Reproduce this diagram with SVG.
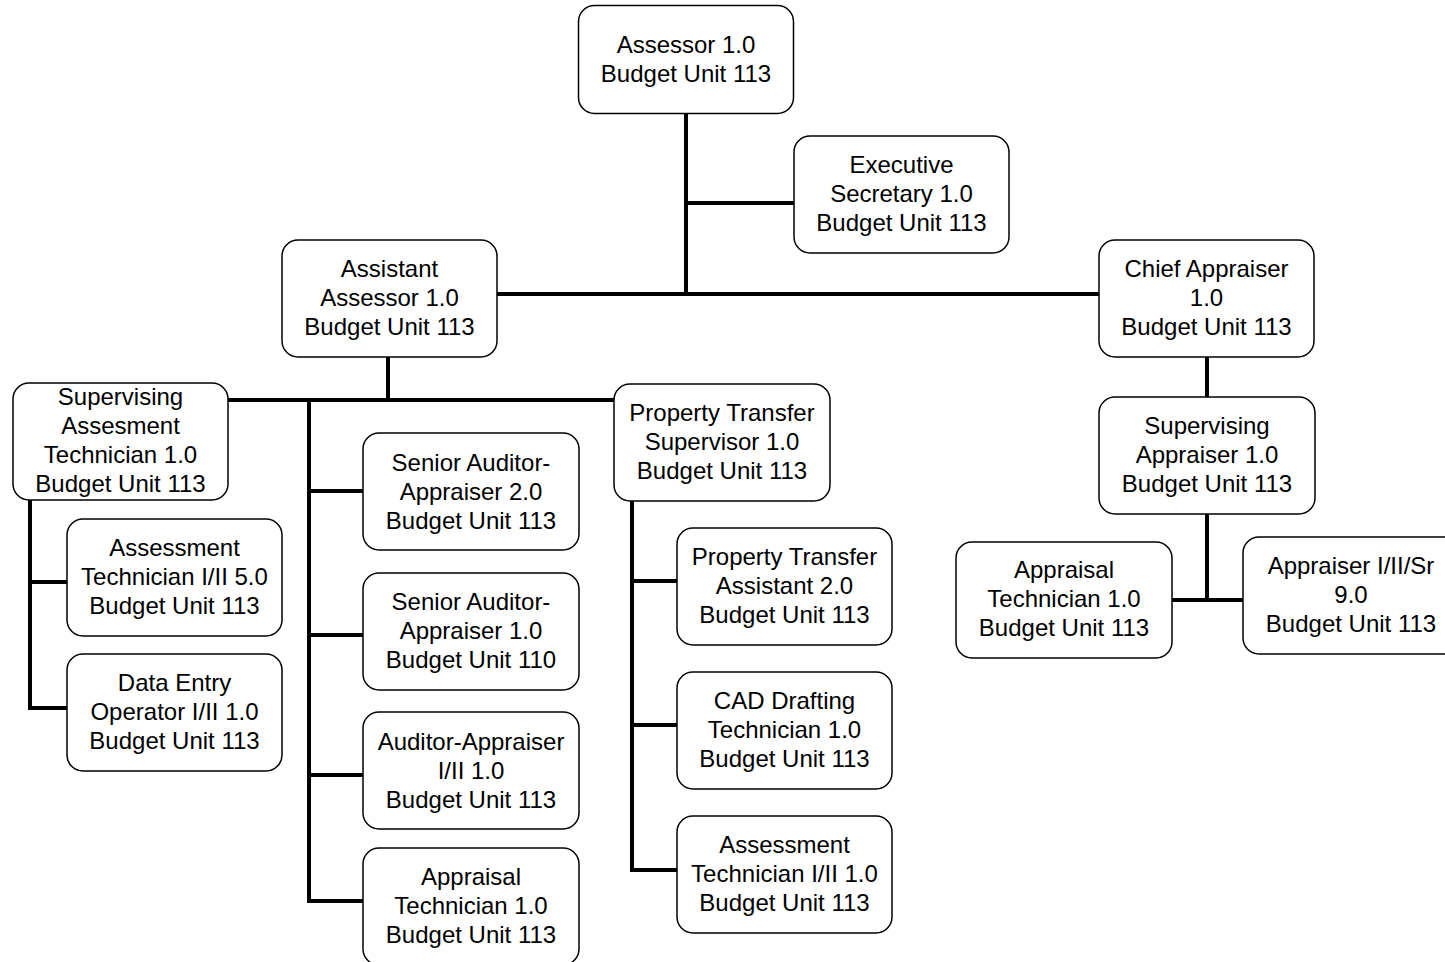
<svg xmlns="http://www.w3.org/2000/svg" width="1445" height="962" viewBox="0 0 1445 962">
<style>
.box{fill:#fff;stroke:#000;stroke-width:1.5}
.t{font-family:"Liberation Sans",Arial,sans-serif;font-size:24px;fill:#000;text-anchor:middle}
.c{fill:none;stroke:#000;stroke-width:4;stroke-linejoin:miter;stroke-linecap:butt}
</style>
<rect width="1445" height="962" fill="#fff"/>
<g id="connectors">
<path class="c" d="M686,113V294M686,203H794M497,294H1100"/>
<path class="c" d="M388,357V400M228,400H615"/>
<path class="c" d="M309,400V901H363M309,491H363M309,635H363M309,775H363"/>
<path class="c" d="M30,500V708H67M30,582H67"/>
<path class="c" d="M632,501V870H677M632,581H677M632,725H677"/>
<path class="c" d="M1207,357V397M1207,514V600M1172,600H1243"/>
</g>
<g id="n-assessor"><rect class="box" x="578.5" y="5.5" width="215" height="108" rx="16"/>
<text class="t" x="686" y="53">Assessor 1.0</text><text class="t" x="686" y="82">Budget Unit 113</text></g>
<g id="n-exec"><rect class="box" x="794" y="136" width="215" height="117" rx="16"/>
<text class="t" x="901.5" y="173">Executive</text><text class="t" x="901.5" y="202">Secretary 1.0</text><text class="t" x="901.5" y="231">Budget Unit 113</text></g>
<g id="n-asst"><rect class="box" x="282" y="240" width="215" height="117" rx="16"/>
<text class="t" x="389.5" y="277">Assistant</text><text class="t" x="389.5" y="306">Assessor 1.0</text><text class="t" x="389.5" y="335">Budget Unit 113</text></g>
<g id="n-chief"><rect class="box" x="1099" y="240" width="215" height="117" rx="16"/>
<text class="t" x="1206.5" y="277">Chief Appraiser</text><text class="t" x="1206.5" y="306">1.0</text><text class="t" x="1206.5" y="335">Budget Unit 113</text></g>
<g id="n-supassess"><rect class="box" x="13" y="383" width="215" height="117" rx="16"/>
<text class="t" x="120.5" y="405">Supervising</text><text class="t" x="120.5" y="434">Assesment</text><text class="t" x="120.5" y="463">Technician 1.0</text><text class="t" x="120.5" y="492">Budget Unit 113</text></g>
<g id="n-assesstech5"><rect class="box" x="67" y="519" width="215" height="117" rx="16"/>
<text class="t" x="174.5" y="556">Assessment</text><text class="t" x="174.5" y="585">Technician I/II 5.0</text><text class="t" x="174.5" y="614">Budget Unit 113</text></g>
<g id="n-dataentry"><rect class="box" x="67" y="654" width="215" height="117" rx="16"/>
<text class="t" x="174.5" y="691">Data Entry</text><text class="t" x="174.5" y="720">Operator I/II 1.0</text><text class="t" x="174.5" y="749">Budget Unit 113</text></g>
<g id="n-senaud2"><rect class="box" x="363" y="433" width="216" height="117" rx="16"/>
<text class="t" x="471" y="471">Senior Auditor-</text><text class="t" x="471" y="500">Appraiser 2.0</text><text class="t" x="471" y="529">Budget Unit 113</text></g>
<g id="n-senaud1"><rect class="box" x="363" y="573" width="216" height="117" rx="16"/>
<text class="t" x="471" y="610">Senior Auditor-</text><text class="t" x="471" y="639">Appraiser 1.0</text><text class="t" x="471" y="668">Budget Unit 110</text></g>
<g id="n-audapp"><rect class="box" x="363" y="712" width="216" height="117" rx="16"/>
<text class="t" x="471" y="750">Auditor-Appraiser</text><text class="t" x="471" y="779">I/II 1.0</text><text class="t" x="471" y="808">Budget Unit 113</text></g>
<g id="n-apptech-left"><rect class="box" x="363" y="848" width="216" height="117" rx="16"/>
<text class="t" x="471" y="885">Appraisal</text><text class="t" x="471" y="914">Technician 1.0</text><text class="t" x="471" y="943">Budget Unit 113</text></g>
<g id="n-pts"><rect class="box" x="614" y="384" width="216" height="117" rx="16"/>
<text class="t" x="722" y="421">Property Transfer</text><text class="t" x="722" y="450">Supervisor 1.0</text><text class="t" x="722" y="479">Budget Unit 113</text></g>
<g id="n-pta"><rect class="box" x="677" y="528" width="215" height="117" rx="16"/>
<text class="t" x="784.5" y="565">Property Transfer</text><text class="t" x="784.5" y="594">Assistant 2.0</text><text class="t" x="784.5" y="623">Budget Unit 113</text></g>
<g id="n-cad"><rect class="box" x="677" y="672" width="215" height="117" rx="16"/>
<text class="t" x="784.5" y="709">CAD Drafting</text><text class="t" x="784.5" y="738">Technician 1.0</text><text class="t" x="784.5" y="767">Budget Unit 113</text></g>
<g id="n-assesstech1"><rect class="box" x="677" y="816" width="215" height="117" rx="16"/>
<text class="t" x="784.5" y="853">Assessment</text><text class="t" x="784.5" y="882">Technician I/II 1.0</text><text class="t" x="784.5" y="911">Budget Unit 113</text></g>
<g id="n-supapp"><rect class="box" x="1099" y="397" width="216" height="117" rx="16"/>
<text class="t" x="1207" y="434">Supervising</text><text class="t" x="1207" y="463">Appraiser 1.0</text><text class="t" x="1207" y="492">Budget Unit 113</text></g>
<g id="n-apptech-right"><rect class="box" x="956" y="542" width="216" height="116" rx="16"/>
<text class="t" x="1064" y="578">Appraisal</text><text class="t" x="1064" y="607">Technician 1.0</text><text class="t" x="1064" y="636">Budget Unit 113</text></g>
<g id="n-appraiser"><rect class="box" x="1243" y="537" width="216" height="117" rx="16"/>
<text class="t" x="1351" y="574">Appraiser I/II/Sr</text><text class="t" x="1351" y="603">9.0</text><text class="t" x="1351" y="632">Budget Unit 113</text></g>
</svg>
